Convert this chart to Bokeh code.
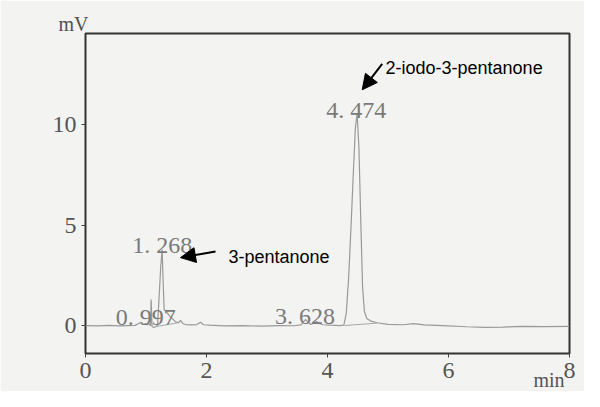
from bokeh.plotting import figure
from bokeh.models import Range1d, FixedTicker, Label, Arrow, NormalHead, ColumnDataSource, Title
from bokeh.core.properties import value
from bokeh.embed import file_html
from bokeh.resources import INLINE

# ---- chromatogram trace (time in min, signal in mV) ----
time_min = [0.00, 0.20, 0.40, 0.55, 0.70, 0.82, 0.88, 0.92, 0.96, 0.99, 1.02, 1.05, 1.075,
            1.085, 1.10, 1.13, 1.16, 1.19, 1.22, 1.245, 1.267, 1.285, 1.30, 1.33, 1.40,
            1.49, 1.54, 1.57, 1.61, 1.66, 1.75, 1.84, 1.90, 1.95, 2.05, 2.30, 2.60, 2.90,
            3.20, 3.45, 3.56, 3.60, 3.64, 3.68, 3.72, 3.77, 3.82, 3.87, 3.92, 4.05, 4.20,
            4.27, 4.31, 4.35, 4.39, 4.43, 4.46, 4.49, 4.52, 4.55, 4.58, 4.61, 4.65, 4.72,
            4.82, 5.00, 5.25, 5.42, 5.60, 5.90, 6.30, 6.60, 6.90, 7.20, 7.60, 8.00]
signal_mv = [0.00, -0.02, 0.01, -0.02, 0.00, 0.01, 0.10, 0.16, 0.05, 0.10, 0.02, 0.10, -0.02,
             1.30, -0.05, -0.10, -0.06, 0.00, 1.60, 3.00, 3.78, 2.00, 0.80, 0.70, 0.45,
             0.18, 0.15, 0.26, 0.10, 0.04, 0.03, 0.05, 0.17, 0.04, 0.02, -0.02, 0.00, -0.03,
             0.00, -0.01, 0.03, 0.18, 0.30, 0.15, 0.06, 0.12, 0.20, 0.10, 0.04, 0.02, 0.00,
             0.02, 0.60, 2.40, 5.00, 7.80, 9.80, 10.55, 8.80, 5.20, 1.90, 0.70, 0.35, 0.22,
             0.14, 0.06, 0.04, 0.10, 0.03, 0.00, -0.06, -0.09, -0.08, -0.04, -0.05, -0.04]

# integration baselines drawn under peaks
base_t = [[1.17, 1.55], [4.28, 4.82]]
base_mv = [[-0.05, 0.15], [0.00, 0.12]]

# peak labels
peak_rt = [0.997, 1.268, 3.628, 4.474]
peak_text = ["0. 997", "1. 268", "3. 628", "4. 474"]
peak_label_y = [0.45, 4.03, 0.50, 10.70]

# compound annotations
compound_names = ["3-pentanone", "2-iodo-3-pentanone"]
name_t = [2.364, 4.959]
name_mv = [3.40, 12.82]
arrow_tail_t = [2.149, 4.904]
arrow_tail_mv = [3.68, 13.02]
arrow_tip_t = [1.570, 4.574]
arrow_tip_mv = [3.38, 11.73]

x_ticks = [0, 2, 4, 6, 8]
y_ticks = [0, 5, 10]

PAPER = "#f3f3f1"
SERIF = "Liberation Serif"

p = figure(width=584, height=391, output_backend="svg", toolbar_location=None,
           x_range=Range1d(0, 8), y_range=Range1d(-1.39, 14.53),
           min_border_left=85, min_border_right=15, min_border_top=33, min_border_bottom=38)
p.title.visible = False
p.background_fill_color = PAPER
p.border_fill_color = PAPER
p.outline_line_color = "#333333"
p.outline_line_width = 2
p.xgrid.visible = False
p.ygrid.visible = False

for ax, ticks in ((p.xaxis, x_ticks), (p.yaxis, y_ticks)):
    ax.ticker = FixedTicker(ticks=ticks)
    ax.axis_line_color = None
    ax.minor_tick_line_color = None
    ax.major_tick_line_color = "#444444"
    ax.major_tick_in = 0
    ax.major_tick_out = 4
    ax.major_label_text_font = SERIF
    ax.major_label_text_font_size = "24px"
    ax.major_label_text_color = "#555555"
p.xaxis.major_label_standoff = 5
p.yaxis.major_label_standoff = 5

# trace
p.line(time_min, signal_mv, line_color="#999999", line_width=1.2)
p.multi_line(base_t, base_mv, line_color="#a8a8a8", line_width=1)

# peak retention time labels
src = ColumnDataSource(dict(x=peak_rt, y=peak_label_y, t=peak_text))
p.text(x="x", y="y", text="t", source=src, text_font=value(SERIF), text_font_size="24px",
       text_color="#7a7a7a", text_align="center", text_baseline="alphabetic")

# compound names and arrows
for i, name in enumerate(compound_names):
    p.add_layout(Label(x=name_t[i], y=name_mv[i], text=name, text_font="Liberation Sans",
                       text_font_size="18px", text_color="black", text_baseline="alphabetic"))
    p.add_layout(Arrow(end=NormalHead(size=15, fill_color="black", line_color="black"),
                       x_start=arrow_tail_t[i], y_start=arrow_tail_mv[i],
                       x_end=arrow_tip_t[i], y_end=arrow_tip_mv[i],
                       line_color="black", line_width=2))

# axis unit labels (placed as titles so they can sit outside the frame)
p.add_layout(Title(text="mV", align="left", vertical_align="bottom", offset=-27, standoff=-2,
                   text_font=SERIF, text_font_size="20px", text_font_style="normal",
                   text_color="#505050"), "above")
p.add_layout(Title(text="min", align="right", vertical_align="top", offset=5, standoff=-24,
                   text_font=SERIF, text_font_size="20px", text_font_style="normal",
                   text_color="#555555"), "below")

open("out.html", "w").write(file_html(p, INLINE))
